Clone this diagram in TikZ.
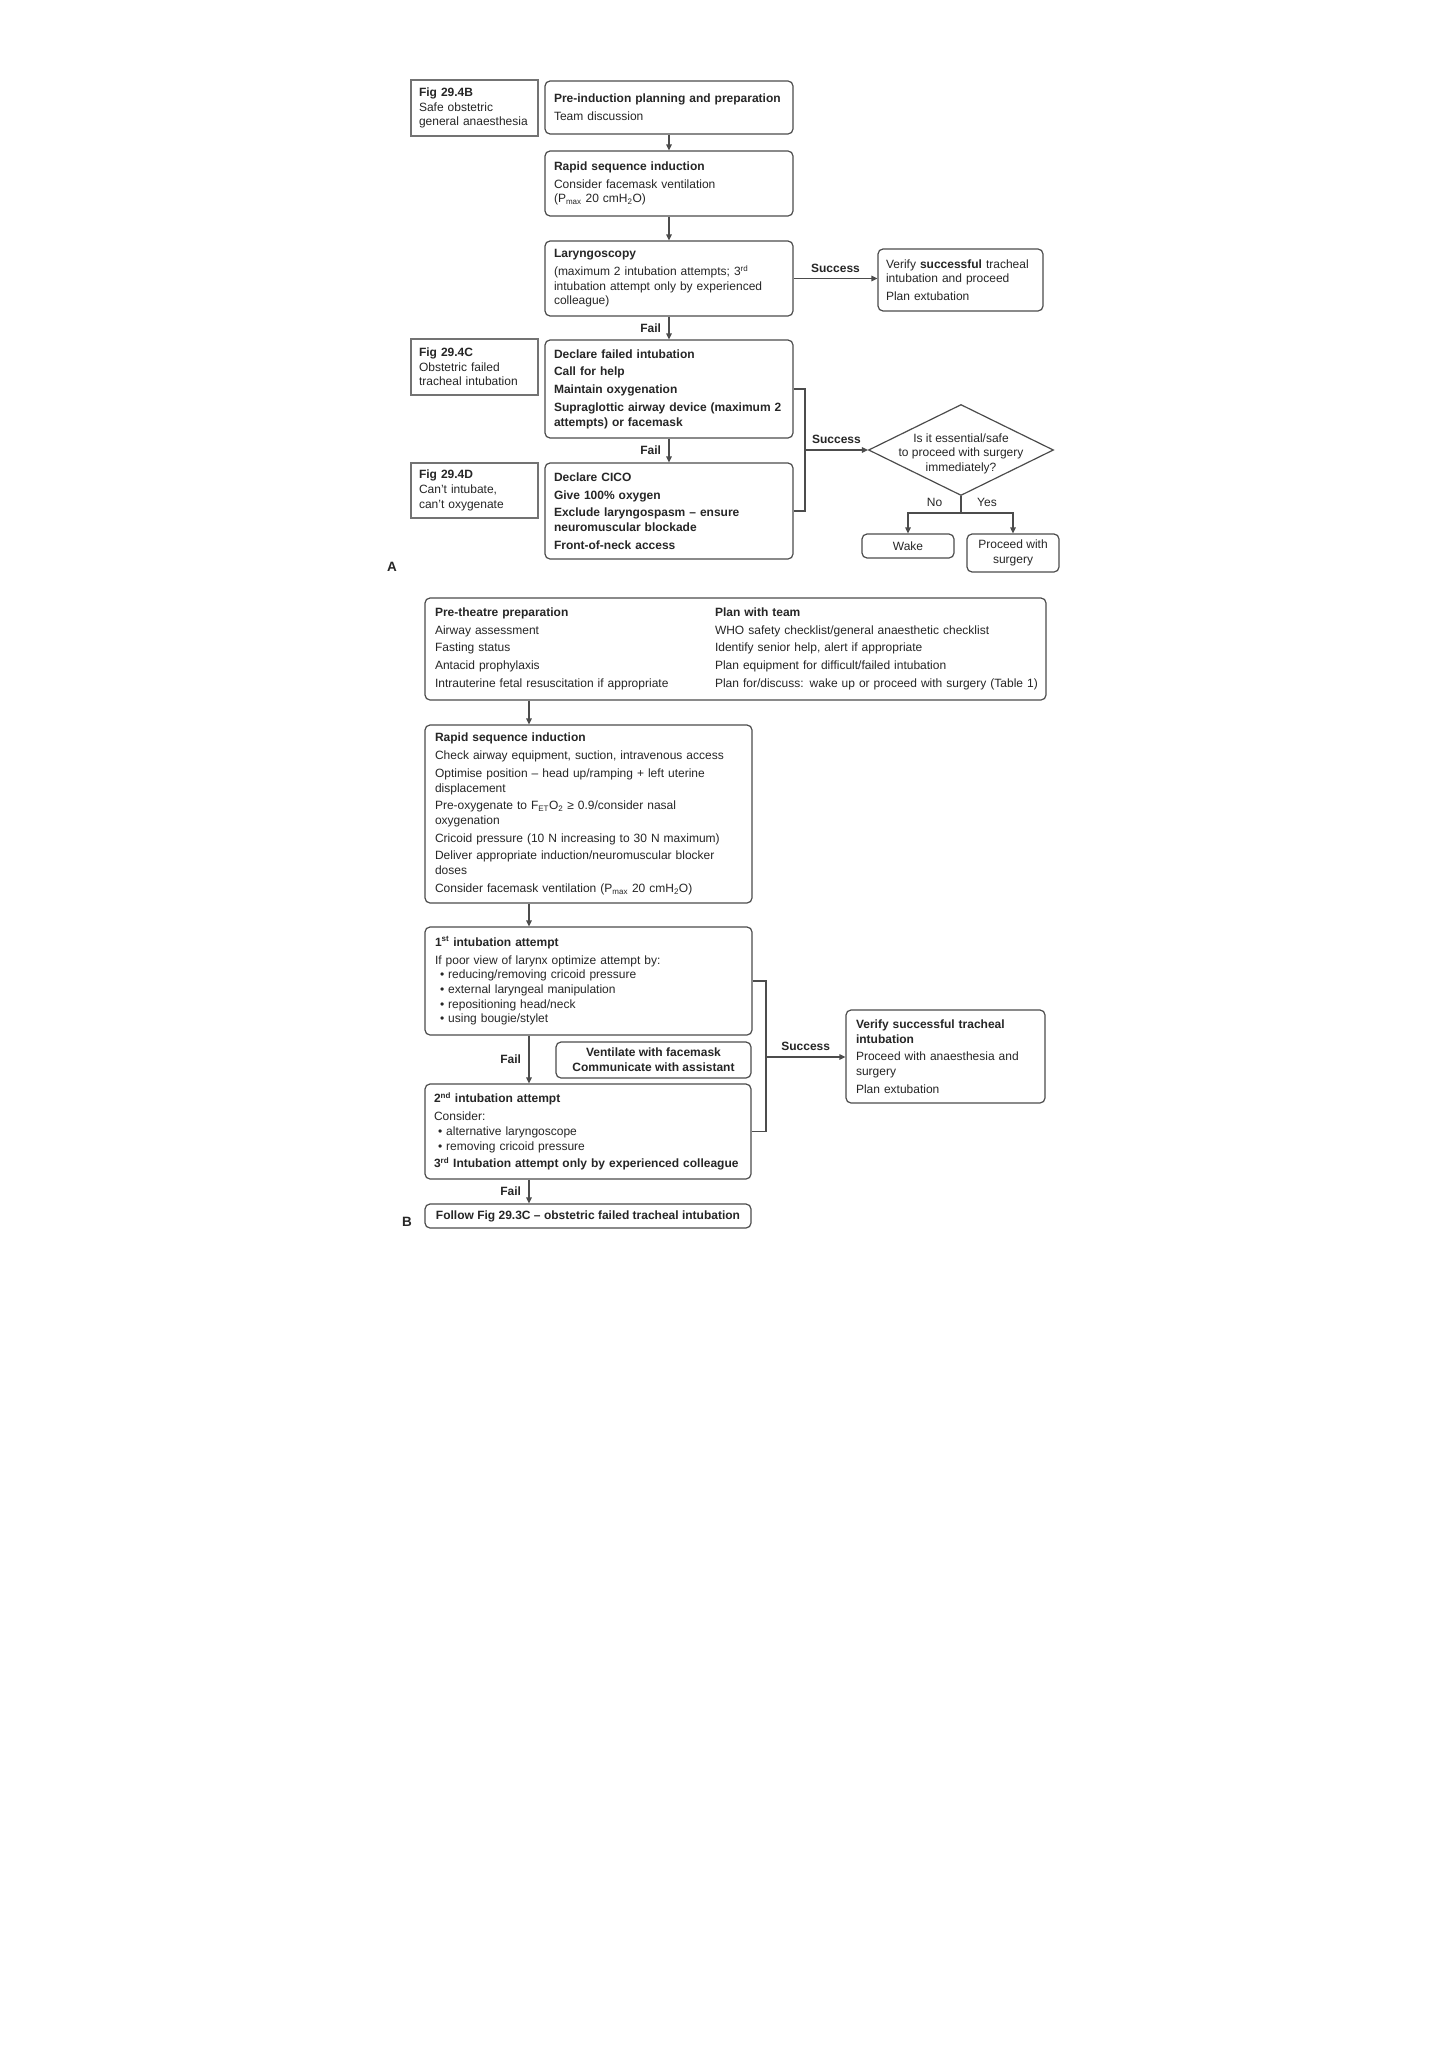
\documentclass[tikz,border=0pt]{standalone}
\usepackage{fontspec}
\setmainfont{Liberation Sans}
\usetikzlibrary{arrows.meta,shapes.geometric}
\newcommand{\isep}{\\[3pt]}
\newcommand{\bul}{\textbullet{} }
\begin{document}
\begin{tikzpicture}[x=1pt,y=-1pt,
  every node/.style={font=\fontsize{12}{14.7}\selectfont, text=black!85},
  ln/.style={draw=black!70, line width=1.2pt},
  box/.style={ln, rounded corners=5pt, align=left, inner xsep=9pt, inner ysep=0pt},
  figbox/.style={draw=black!55, line width=1.1pt, align=left, inner xsep=8pt, inner ysep=0pt},
  arr/.style={ln, -{Triangle[length=6pt,width=5.5pt]}},
  lbl/.style={font=\bfseries\fontsize{12}{14.7}\selectfont},
  biglbl/.style={font=\bfseries\fontsize{13.5}{16}\selectfont},
]
\fill[white] (0,0) rectangle (1448,2050);
\useasboundingbox (0,0) rectangle (1448,2050);

% ---------------- Part A ----------------
\node[figbox, minimum width=127pt, minimum height=56pt, text width=111pt] (figB) at (474.5,108)
  {\textbf{Fig 29.4B}\\Safe obstetric\\general anaesthesia};
\node[figbox, minimum width=127pt, minimum height=56pt, text width=111pt] (figC) at (474.5,367)
  {\textbf{Fig 29.4C}\\Obstetric failed\\tracheal intubation};
\node[figbox, minimum width=127pt, minimum height=55pt, text width=111pt] (figD) at (474.5,490.5)
  {\textbf{Fig 29.4D}\\Can't intubate,\\can't oxygenate};

\node[box, minimum width=248pt, minimum height=53pt, text width=230pt] (pre) at (669,107.5)
  {\textbf{Pre-induction planning and preparation}\isep Team discussion};
\node[box, minimum width=248pt, minimum height=65pt, text width=230pt] (rsiA) at (669,183.5)
  {\textbf{Rapid sequence induction}\isep Consider facemask ventilation\\(P\textsubscript{max} 20 cmH\textsubscript{2}O)};
\node[box, minimum width=248pt, minimum height=75pt, text width=230pt] (laryA) at (669,278.5)
  {\textbf{Laryngoscopy}\isep (maximum 2 intubation attempts; 3\textsuperscript{rd}\\intubation attempt only by experienced\\colleague)};
\node[box, inner xsep=8pt, minimum width=165pt, minimum height=62pt, text width=149pt] (verA) at (960.5,280)
  {Verify \textbf{successful} tracheal\\intubation and proceed\isep Plan extubation};
\node[box, minimum width=248pt, minimum height=98pt, text width=230pt, font=\bfseries\fontsize{12}{14.7}\selectfont] (declA) at (669,389)
  {Declare failed intubation\isep Call for help\isep Maintain oxygenation\isep Supraglottic airway device (maximum 2\\attempts) or facemask};
\node[box, minimum width=248pt, minimum height=96pt, text width=230pt, font=\bfseries\fontsize{12}{14.7}\selectfont] (cicoA) at (669,511)
  {Declare CICO\isep Give 100\% oxygen\isep Exclude laryngospasm -- ensure\\neuromuscular blockade\isep Front-of-neck access};

\node[ln, diamond, minimum width=185pt, minimum height=91pt, inner sep=0pt] (dia) at (961,450)
  {\makebox[0pt]{\smash{\raisebox{-7pt}{\begin{tabular}{@{}c@{}}Is it essential/safe\\to proceed with surgery\\immediately?\end{tabular}}}}};
\node[box, align=center, inner xsep=2pt, minimum width=92pt, minimum height=24pt] (wake) at (908,546) {Wake};
\node[box, align=center, inner xsep=2pt, minimum width=92pt, minimum height=38pt] (proc) at (1013,553) {Proceed with\\surgery};

\node[biglbl] (labA) at (392,567) {A};

\draw[arr] (pre.south) -- (rsiA.north);
\draw[arr] (rsiA.south) -- (laryA.north);
\draw[arr] (laryA.south) -- node[lbl, left=4pt] {Fail} (declA.north);
\draw[arr] (declA.south) -- node[lbl, left=4pt] {Fail} (cicoA.north);
\draw[arr] (laryA.east) -- node[lbl, above=2pt] {Success} (laryA.east -| verA.west);

\coordinate (brA) at (805,450);
\draw[ln] (declA.east) -- (declA.east -| brA) -- (cicoA.east -| brA) -- (cicoA.east);
\draw[arr] (brA) -- node[lbl, above=2pt] {Success} (dia.west);

\coordinate (jn) at (961,513);
\draw[ln] (dia.south) -- (jn);
\draw[arr] (jn) -| node[pos=0.25, above=2pt] {No} (wake.north);
\draw[arr] (jn) -| node[pos=0.25, above=2pt] {Yes} (proc.north);

% ---------------- Part B ----------------
\node[box, inner xsep=10pt, minimum width=621pt, minimum height=102pt, text width=601pt] (big) at (735.5,649)
  {\begin{tabular}{@{}p{280pt}@{}l@{}}
   \textbf{Pre-theatre preparation} & \textbf{Plan with team}\\[3pt]
   Airway assessment & WHO safety checklist/general anaesthetic checklist\\[3pt]
   Fasting status & Identify senior help, alert if appropriate\\[3pt]
   Antacid prophylaxis & Plan equipment for difficult/failed intubation\\[3pt]
   Intrauterine fetal resuscitation if appropriate & Plan for/discuss: wake up or proceed with surgery (Table 1)
   \end{tabular}};

\node[box, inner xsep=10pt, minimum width=327pt, minimum height=178pt, text width=307pt] (rsiB) at (588.5,814)
  {\textbf{Rapid sequence induction}\isep
   Check airway equipment, suction, intravenous access\isep
   Optimise position -- head up/ramping + left uterine\\displacement\isep
   Pre-oxygenate to F\textsubscript{ET}O\textsubscript{2} ≥ 0.9/consider nasal\\oxygenation\isep
   Cricoid pressure (10 N increasing to 30 N maximum)\isep
   Deliver appropriate induction/neuromuscular blocker\\doses\isep
   Consider facemask ventilation (P\textsubscript{max} 20 cmH\textsubscript{2}O)};

\node[box, inner xsep=10pt, minimum width=327pt, minimum height=108pt, text width=307pt] (first) at (588.5,981)
  {\textbf{1\textsuperscript{st} intubation attempt}\isep
   If poor view of larynx optimize attempt by:\\
   \hspace*{5pt}\bul reducing/removing cricoid pressure\\
   \hspace*{5pt}\bul external laryngeal manipulation\\
   \hspace*{5pt}\bul repositioning head/neck\\
   \hspace*{5pt}\bul using bougie/stylet};

\node[box, align=center, inner xsep=2pt, minimum width=195pt, minimum height=36pt, font=\bfseries\fontsize{12}{15}\selectfont] (vent) at (653.5,1060)
  {Ventilate with facemask\\Communicate with assistant};

\node[box, inner xsep=9pt, minimum width=326pt, minimum height=95pt, text width=308pt] (second) at (588,1131.5)
  {\textbf{2\textsuperscript{nd} intubation attempt}\isep
   Consider:\\
   \hspace*{4pt}\bul alternative laryngoscope\\
   \hspace*{4pt}\bul removing cricoid pressure\isep
   \textbf{3\textsuperscript{rd} Intubation attempt only by experienced colleague}};

\node[box, align=center, inner xsep=2pt, minimum width=326pt, minimum height=24pt, font=\bfseries\fontsize{12}{14.7}\selectfont] (follow) at (588,1216)
  {Follow Fig 29.3C -- obstetric failed tracheal intubation};

\node[box, inner xsep=10pt, minimum width=199pt, minimum height=93pt, text width=179pt] (verB) at (945.5,1056.5)
  {\textbf{Verify successful tracheal}\\\textbf{intubation}\isep
   Proceed with anaesthesia and\\surgery\isep
   Plan extubation};

\node[biglbl] (labB) at (407,1222) {B};

\coordinate (colB) at (529,0);
\draw[arr] (big.south -| colB) -- (rsiB.north -| colB);
\draw[arr] (rsiB.south -| colB) -- (first.north -| colB);
\draw[arr] (first.south -| colB) -- node[lbl, left=4pt] {Fail} (second.north -| colB);
\draw[arr] (second.south -| colB) -- node[lbl, left=4pt] {Fail} (follow.north -| colB);

\coordinate (brB) at (766,1057);
\draw[ln] (first.east) -- (first.east -| brB) -- (second.east -| brB) -- (second.east);
\draw[arr] (brB) -- node[lbl, above=2pt] {Success} (brB -| verB.west);
\end{tikzpicture}
\end{document}
